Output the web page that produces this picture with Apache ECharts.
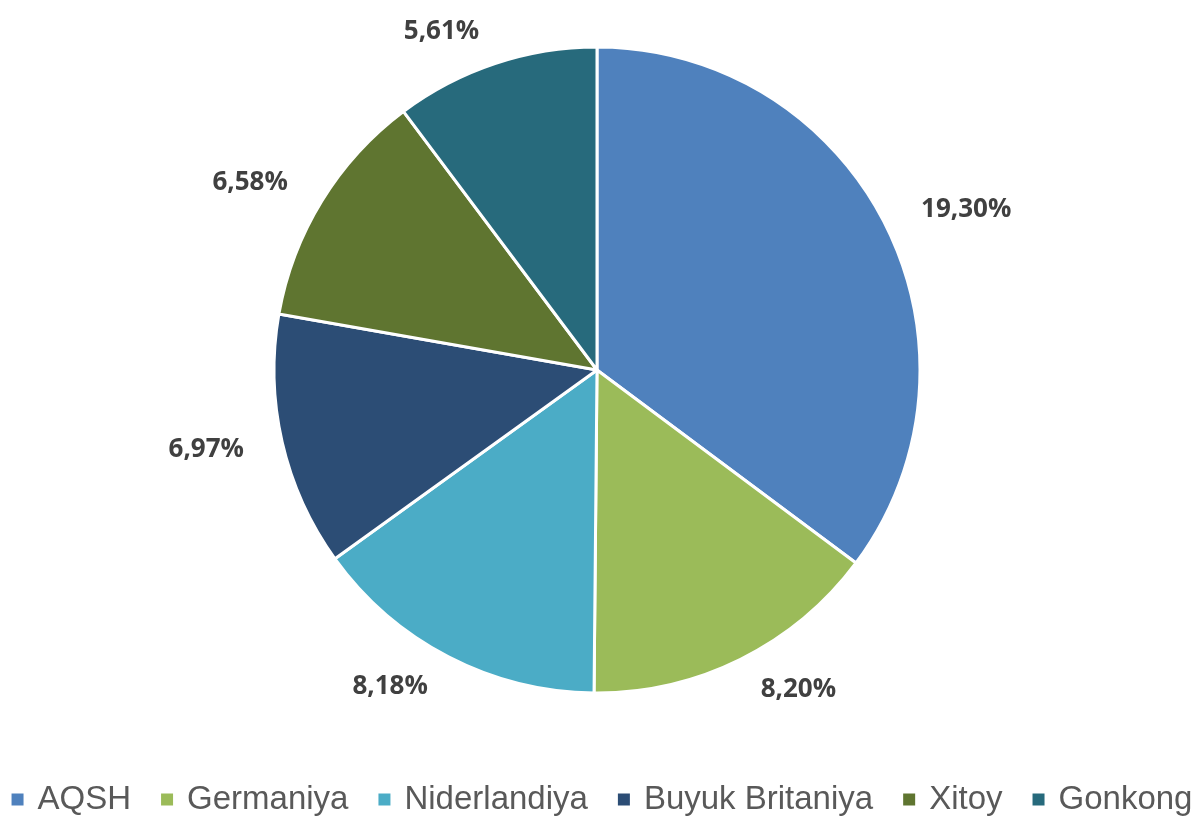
<!DOCTYPE html>
<html>
<head>
<meta charset="utf-8">
<script src="https://cdn.jsdelivr.net/npm/echarts@6/dist/echarts.min.js"></script>
<style>
  html, body { margin: 0; padding: 0; background: #fff; }
  #chart { width: 1202px; height: 821px; }
</style>
</head>
<body>
<div id="chart"></div>
<script>
const countries = ['AQSH', 'Germaniya', 'Niderlandiya', 'Buyuk Britaniya', 'Xitoy', 'Gonkong'];
const shares = [19.30, 8.20, 8.18, 6.97, 6.58, 5.61];
const colors = ['#4F81BD', '#9BBB59', '#4BACC6', '#2C4D75', '#5F7530', '#276A7C'];

const chart = echarts.init(document.getElementById('chart'));

chart.setOption({
  color: colors,
  animation: false,
  legend: {
    bottom: 0,
    left: 'center',
    icon: 'rect',
    itemWidth: 14,
    itemHeight: 14,
    itemGap: 28,
    textStyle: {
      fontFamily: '"Liberation Sans", sans-serif',
      fontSize: 33,
      color: '#595959',
      padding: [0, 0, 0, 8],
    },
    data: countries,
  },
  series: [
    {
      type: 'pie',
      center: [597, 370],
      radius: 323,
      startAngle: 90,
      clockwise: true,
      itemStyle: {
        borderColor: '#fff',
        borderWidth: 3,
      },
      label: {
        show: true,
        position: 'outside',
        formatter: (p) => p.value.toFixed(2).replace('.', ',') + '%',
        fontFamily: '"Open Sans", sans-serif',
        fontWeight: 'bold',
        fontSize: 26,
        color: '#404040',
      },
      labelLine: {
        show: false,
        length: 34,
        length2: 0,
      },
      data: countries.map((name, i) => ({ name: name, value: shares[i] })),
    },
  ],
});
</script>
</body>
</html>
